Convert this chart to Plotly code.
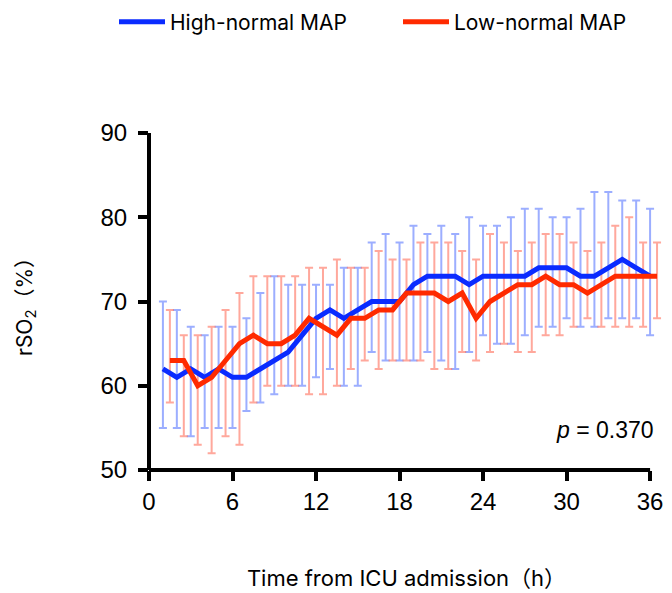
import plotly.graph_objects as go

hours = list(range(1, 37))

high_mean = [62, 61, 62, 61, 62, 61, 61, 62, 63, 64, 66, 68, 69, 68, 69, 70, 70, 70,
             72, 73, 73, 73, 72, 73, 73, 73, 73, 74, 74, 74, 73, 73, 74, 75, 74, 73]
high_upper = [70, 69, 67, 66, 67, 67, 68, 71, 73, 72, 72, 72, 72, 74, 74, 77, 78, 77,
              79, 78, 79, 78, 80, 79, 79, 80, 81, 81, 80, 80, 81, 83, 83, 82, 82, 81]
high_lower = [55, 55, 54, 55, 55, 55, 57, 58, 59, 60, 60, 61, 62, 60, 60, 64, 63, 63,
              63, 64, 63, 62, 64, 66, 65, 65, 66, 67, 67, 68, 67, 67, 68, 68, 68, 66]

low_mean = [63, 63, 60, 61, 63, 65, 66, 65, 65, 66, 68, 67, 66, 68, 68, 69, 69, 71,
            71, 71, 70, 71, 68, 70, 71, 72, 72, 73, 72, 72, 71, 72, 73, 73, 73, 73]
low_upper = [69, 66, 66, 67, 69, 71, 73, 73, 73, 73, 74, 74, 75, 74, 74, 76, 75, 75,
             77, 77, 77, 76, 75, 78, 77, 76, 77, 78, 78, 77, 76, 77, 79, 80, 77, 77]
low_lower = [58, 54, 53, 52, 54, 53, 58, 60, 60, 60, 59, 59, 60, 62, 63, 62, 63, 63,
             63, 62, 62, 64, 63, 64, 65, 64, 64, 66, 66, 67, 68, 67, 67, 67, 67, 68]

x_ticks = [0, 6, 12, 18, 24, 30, 36]
y_ticks = [50, 60, 70, 80, 90]
dodge = 0.5  # low-normal group drawn slightly right of the high-normal group

BLUE = "#0a2bff"
RED = "#ff2a00"
BLUE_BAR = "rgba(90,120,255,0.6)"
RED_BAR = "rgba(255,110,90,0.6)"
FONT = "Inter, Liberation Sans, Noto Sans CJK SC, sans-serif"
TICKFONT = "Liberation Sans, Arial, sans-serif"

x_high = hours
x_low = [h + dodge for h in hours]

def err(mean, upper, lower):
    return ([u - m for u, m in zip(upper, mean)], [m - l for m, l in zip(mean, lower)])

hp, hm = err(high_mean, high_upper, high_lower)
lp, lm = err(low_mean, low_upper, low_lower)

fig = go.Figure()
fig.add_trace(go.Scatter(
    x=x_high, y=high_mean, mode="markers", showlegend=False, hoverinfo="skip",
    marker=dict(size=1, color="rgba(0,0,0,0)"),
    error_y=dict(type="data", symmetric=False, array=hp, arrayminus=hm,
                 color=BLUE_BAR, thickness=2, width=4)))
fig.add_trace(go.Scatter(
    x=x_low, y=low_mean, mode="markers", showlegend=False, hoverinfo="skip",
    marker=dict(size=1, color="rgba(0,0,0,0)"),
    error_y=dict(type="data", symmetric=False, array=lp, arrayminus=lm,
                 color=RED_BAR, thickness=2, width=4)))
fig.add_trace(go.Scatter(x=x_high, y=high_mean, mode="lines", name="High-normal MAP",
                         line=dict(color=BLUE, width=5), legend="legend"))
fig.add_trace(go.Scatter(x=x_low, y=low_mean, mode="lines", name="Low-normal MAP",
                         line=dict(color=RED, width=5), legend="legend2"))

# the page body adds an 8px offset; layout below is in figure pixels
OFF = 8
FW, FH = 672, 593
L, T = 149 - OFF, 133 - OFF
B = FH - (470 - OFF)
R = FW - (664 - OFF)
W = FW - L - R
H = FH - T - B

def fx(page_x):
    return (page_x - OFF - L) / W

def fy(page_y):
    return (FH - B - (page_y - OFF)) / H

leg_common = dict(orientation="h", yanchor="middle", xanchor="left",
                  font=dict(family=FONT, size=21, color="black"),
                  itemwidth=46, bgcolor="rgba(0,0,0,0)")

fig.update_layout(
    width=FW, height=FH,
    margin=dict(l=L, r=R, t=T, b=B, autoexpand=False),
    paper_bgcolor="white", plot_bgcolor="white",
    font=dict(family=FONT, size=20, color="black"),
    showlegend=True,
    legend=dict(x=fx(114), y=fy(22), **leg_common),
    legend2=dict(x=fx(398), y=fy(22), **leg_common),
    xaxis=dict(range=[0, 37], tickvals=x_ticks, ticktext=[str(t) for t in x_ticks],
               showgrid=False, zeroline=False, showline=False, automargin=False,
               ticks="outside", ticklen=10, tickwidth=4, tickcolor="black",
               ticklabelstandoff=0,
               tickfont=dict(family=TICKFONT, size=24),
               title=dict(text="Time from ICU admission（h）", standoff=56,
                          font=dict(family=FONT, size=22))),
    yaxis=dict(range=[50, 90], tickvals=y_ticks, showgrid=False, zeroline=False,
               showline=False, automargin=False, ticks="outside", ticklen=10,
               tickwidth=4, tickcolor="black", ticklabelstandoff=6,
               tickfont=dict(family=TICKFONT, size=24),
               title=dict(text="rSO<sub>2</sub>（%）", standoff=62,
                          font=dict(family=FONT, size=21))),
    annotations=[dict(text="<i>p</i> = 0.370", xref="paper", yref="paper",
                      x=fx(656), y=fy(430), xanchor="right", yanchor="middle",
                      showarrow=False, font=dict(family=TICKFONT, size=23))],
)

# axis lines (x-axis line stops at the last labelled tick, as in the original)
fig.add_shape(type="line", xref="paper", yref="paper", x0=0, x1=36 / 37, y0=0, y1=0,
              line=dict(color="black", width=4))
fig.add_shape(type="line", xref="paper", yref="paper", x0=0, x1=0, y0=0, y1=1,
              line=dict(color="black", width=4))

fig.write_html("out.html")
